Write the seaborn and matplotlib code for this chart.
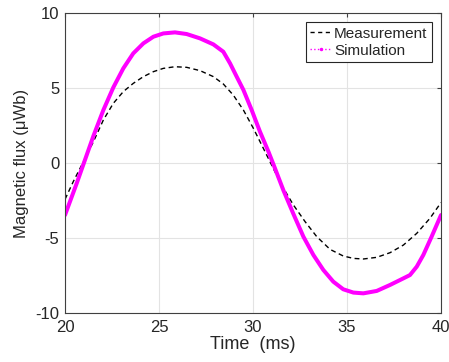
import seaborn as sns
import matplotlib
matplotlib.use("Agg")
import matplotlib.pyplot as plt
from matplotlib.lines import Line2D
import pandas as pd

# Datos
t_meas = [20.0, 20.44, 20.98, 21.51, 22.04, 22.57, 23.1, 23.63, 24.17, 24.7, 25.23,
          25.85, 26.47, 27.18, 27.89, 28.42, 28.95, 29.49, 30.02, 30.55, 31.08, 31.52,
          32.15, 32.77, 33.39, 34.1, 34.8, 35.34, 35.87, 36.58, 37.29, 38.0, 38.71,
          39.41, 40.0]
flux_meas = [-2.42, -1.24, 0.09, 1.42, 2.87, 3.98, 4.76, 5.31, 5.76, 6.09, 6.31,
             6.42, 6.38, 6.16, 5.76, 5.27, 4.53, 3.53, 2.31, 0.98, -0.36, -1.47,
             -2.8, -3.91, -4.91, -5.76, -6.2, -6.36, -6.4, -6.29, -5.98, -5.47, -4.69,
             -3.69, -2.64]

t_sim = [20.0, 20.62, 21.06, 21.51, 22.04, 22.57, 23.1, 23.63, 24.17, 24.7, 25.23,
         25.85, 26.47, 27.18, 27.89, 28.42, 28.78, 29.13, 29.49, 29.93, 30.37, 30.82,
         31.17, 31.61, 32.15, 32.68, 33.21, 33.74, 34.27, 34.8, 35.34, 35.87, 36.58,
         37.29, 38.0, 38.35, 38.71, 39.06, 39.5, 40.0]
flux_sim = [-3.47, -1.36, 0.2, 1.8, 3.53, 5.04, 6.31, 7.31, 7.98, 8.42, 8.64,
            8.71, 8.6, 8.31, 7.91, 7.42, 6.64, 5.76, 4.87, 3.53, 2.09, 0.76,
            -0.36, -1.8, -3.4, -4.91, -6.13, -7.13, -7.91, -8.42, -8.64, -8.69, -8.53,
            -8.13, -7.69, -7.47, -6.91, -6.13, -4.91, -3.47]

xticks = [20, 25, 30, 35, 40]
yticks = [-10, -5, 0, 5, 10]

df_meas = pd.DataFrame({"time": t_meas, "flux": flux_meas})
df_sim = pd.DataFrame({"time": t_sim, "flux": flux_sim})

sns.set_style("whitegrid")
plt.rcParams["font.family"] = ["Liberation Sans", "DejaVu Sans"]
plt.rcParams["axes.unicode_minus"] = False

fig = plt.figure(figsize=(4.49, 3.62), dpi=100)
ax = fig.add_axes([0.1448, 0.1354, 0.9822 - 0.1448, 0.964 - 0.1354])

sns.lineplot(data=df_meas, x="time", y="flux", ax=ax, color="black",
             linestyle=(0, (3.5, 2.5)), linewidth=1.0, sort=False)
sns.lineplot(data=df_sim, x="time", y="flux", ax=ax, color="#ff00ff",
             linewidth=2.9, sort=False)

ax.set_xlim(20, 40)
ax.set_ylim(-10, 10)
ax.set_xticks(xticks)
ax.set_yticks(yticks)
ax.set_xticklabels([str(v) for v in xticks], fontsize=12)
ax.set_yticklabels([str(v) for v in yticks], fontsize=12)
ax.set_xlabel("Time  (ms)", fontsize=13, labelpad=1)
ax.set_ylabel("Magnetic flux (\u03bcWb)", fontsize=12, labelpad=5)

# estilo tipo MATLAB
ax.grid(True, color="#e3e3e3", linewidth=0.8)
for s in ax.spines.values():
    s.set_color("#404040")
    s.set_linewidth(0.8)
ax.tick_params(direction="in", length=3, color="#404040", labelcolor="#262626")
ax.tick_params(axis="x", pad=5)
ax.tick_params(axis="y", pad=4)
ax.tick_params(top=True, right=True, labeltop=False, labelright=False)

handles = [
    Line2D([], [], color="black", linestyle=(0, (3, 2.5)), linewidth=1.0),
    Line2D([], [], color="#ff00ff", linestyle=":", linewidth=1.0, marker=".", markersize=3),
]
leg = ax.legend(handles, ["Measurement", "Simulation"], loc="upper right", fontsize=11,
                frameon=True, fancybox=False, edgecolor="#262626", framealpha=1,
                handlelength=1.4, handletextpad=0.15, borderpad=0.3, labelspacing=0.2,
                borderaxespad=0.6)
leg.get_frame().set_linewidth(0.8)

fig.savefig("out.png", dpi=100)
